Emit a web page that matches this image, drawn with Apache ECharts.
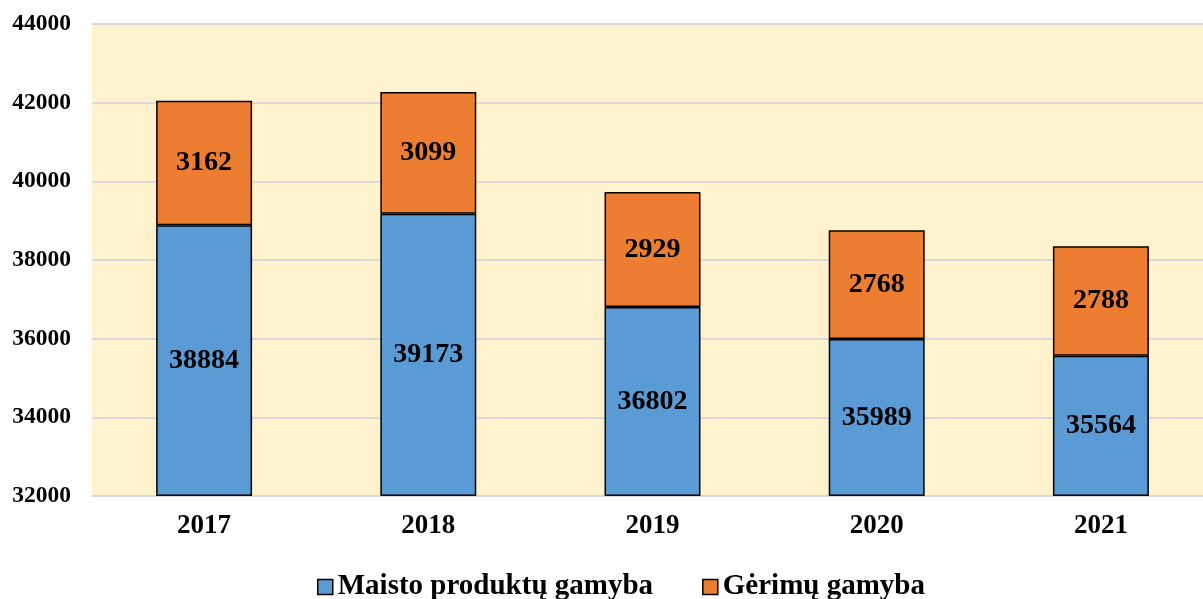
<!DOCTYPE html>
<html><head><meta charset="utf-8">
<script src="https://cdn.jsdelivr.net/npm/echarts@6/dist/echarts.min.js"></script>
<style>html,body{margin:0;padding:0;background:#fff}#c{width:1203px;height:599px}</style>
</head><body><div id="c"></div>
<script>
const categories = ['2017', '2018', '2019', '2020', '2021'];
const foodValues = [38884, 39173, 36802, 35989, 35564];
const drinkValues = [3162, 3099, 2929, 2768, 2788];
const seriesNames = ['Maisto produktų gamyba', 'Gėrimų gamyba'];
const yTicks = [32000, 34000, 36000, 38000, 40000, 42000, 44000];

const FONT = '"Liberation Serif", "Times New Roman", serif';
const chart = echarts.init(document.getElementById('c'));
const labelStyle = { show: true, position: 'inside', color: '#000', fontFamily: FONT, fontWeight: 'bold', fontSize: 28 };
chart.setOption({
  animation: false,
  grid: { left: 92, right: -10, top: 24, bottom: 103, show: true, backgroundColor: '#FFF2CC', borderWidth: 0, outerBoundsMode: 'none', containLabel: false },
  legend: {
    top: 572, left: 317, padding: 0, itemWidth: 15, itemHeight: 15, itemGap: 49, icon: 'rect',
    textStyle: { fontFamily: FONT, fontWeight: 'bold', fontSize: 29, lineHeight: 30, color: '#000' },
    itemStyle: { borderColor: '#000', borderWidth: 1.5 }
  },
  xAxis: {
    type: 'category', data: categories,
    axisLine: { show: true, lineStyle: { color: '#D9D9D9', width: 2 } },
    axisTick: { show: false },
    axisLabel: { color: '#000', fontFamily: FONT, fontWeight: 'bold', fontSize: 27, margin: 17 }
  },
  yAxis: {
    type: 'value', min: yTicks[0], max: yTicks[yTicks.length - 1], interval: 2000, startValue: yTicks[0],
    axisLine: { show: false }, axisTick: { show: false },
    splitLine: { lineStyle: { color: '#D9D9D9', width: 2 } },
    axisLabel: { color: '#000', fontFamily: FONT, fontWeight: 'bold', fontSize: 23.5, margin: 21, formatter: v => String(v) }
  },
  series: [
    { name: seriesNames[0], type: 'bar', stack: 'a', data: foodValues, barWidth: '42.8%',
      itemStyle: { color: '#5B9BD5', borderColor: '#000', borderWidth: 1.5 }, label: labelStyle },
    { name: seriesNames[1], type: 'bar', stack: 'a', data: drinkValues, barWidth: '42.8%',
      itemStyle: { color: '#ED7D31', borderColor: '#000', borderWidth: 1.5 }, label: labelStyle }
  ]
});
</script></body></html>
